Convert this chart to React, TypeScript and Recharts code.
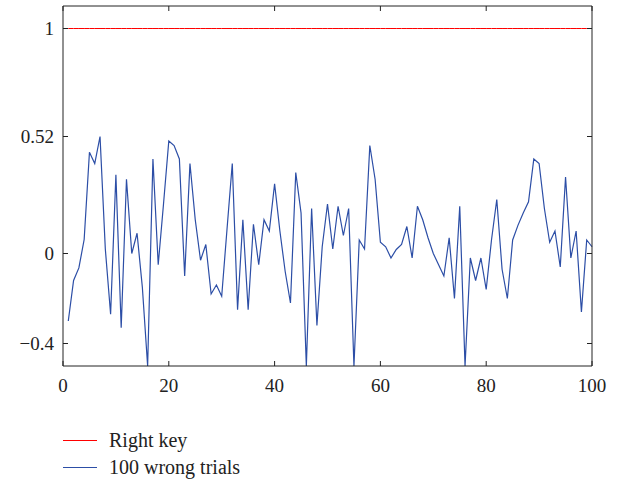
import { LineChart, Line, XAxis, YAxis, Legend } from 'recharts';

const wrongTrials = [
  -0.3, -0.12, -0.064, 0.062, 0.45, 0.4, 0.52, 0.02, -0.27, 0.35,
  -0.33, 0.33, 0.0, 0.09, -0.15, -0.5, 0.42, -0.05, 0.22, 0.5,
  0.48, 0.42, -0.1, 0.4, 0.15, -0.03, 0.04, -0.18, -0.14, -0.19,
  0.107, 0.4, -0.25, 0.15, -0.25, 0.13, -0.05, 0.15, 0.1, 0.31,
  0.1, -0.08, -0.22, 0.36, 0.18, -0.5, 0.2, -0.32, 0.03, 0.22,
  0.02, 0.21, 0.08, 0.2, -0.5, 0.06, 0.02, 0.48, 0.33, 0.05,
  0.03, -0.02, 0.018, 0.04, 0.12, -0.02, 0.21, 0.15, 0.07, 0.0,
  -0.05, -0.1, 0.07, -0.2, 0.21, -0.5, -0.02, -0.12, -0.02, -0.16,
  0.06, 0.24, -0.07, -0.2, 0.06, 0.125, 0.18, 0.23, 0.42, 0.4,
  0.2, 0.05, 0.1, -0.06, 0.34, -0.02, 0.1, -0.26, 0.06, 0.03,
];
const rightKey = 1;
const xTicks = [0, 20, 40, 60, 80, 100];
const yTicks = [-0.4, 0, 0.52, 1];

const data = wrongTrials.map((v, i) => ({ trial: i + 1, wrong: v, right: rightKey }));

const font = '"Liberation Serif", serif';
const axisColor = '#222';
const fmt = (v: number) => (v < 0 ? '\u2212' + Math.abs(v) : String(v));

const legendItems = [
  { name: 'Right key', color: '#ff0000' },
  { name: '100 wrong trials', color: '#2c4ea6' },
];

const renderLegend = () => (
  <div style={{ fontFamily: font, fontSize: 20, color: '#222' }}>
    {legendItems.map((it) => (
      <div key={it.name} style={{ display: 'flex', alignItems: 'center', height: 27 }}>
        <svg width={34} height={3} style={{ marginRight: 12 }}>
          <line x1={0} x2={34} y1={1.5} y2={1.5} stroke={it.color} strokeWidth={1.2} />
        </svg>
        <span>{it.name}</span>
      </div>
    ))}
  </div>
);

export default function App() {
  return (
    <div style={{ position: 'absolute', left: 0, top: 0, background: '#fff' }}>
      <LineChart width={618} height={479} data={data} margin={{ top: 5, right: 25, left: 0, bottom: 83 }}>
        <XAxis
          dataKey="trial"
          type="number"
          domain={[0, 100]}
          ticks={xTicks}
          height={30}
          tickSize={-5}
          tickMargin={18}
          stroke={axisColor}
          tick={{ fill: '#222', fontSize: 19, fontFamily: font }}
        />
        <XAxis
          xAxisId="top"
          dataKey="trial"
          type="number"
          orientation="top"
          domain={[0, 100]}
          ticks={xTicks}
          height={1}
          tickSize={-5}
          stroke={axisColor}
          tick={() => <g />}
        />
        <YAxis
          type="number"
          domain={[-0.5, 1.1]}
          ticks={yTicks}
          width={63}
          tickSize={-5}
          tickMargin={14}
          allowDataOverflow
          stroke={axisColor}
          tickFormatter={fmt}
          tick={{ fill: '#222', fontSize: 19, fontFamily: font }}
        />
        <YAxis
          yAxisId="right"
          orientation="right"
          type="number"
          domain={[-0.5, 1.1]}
          ticks={yTicks}
          width={1}
          tickSize={-5}
          allowDataOverflow
          stroke={axisColor}
          tick={() => <g />}
        />
        <Line dataKey="right" stroke="#ff0000" strokeWidth={1} dot={false} isAnimationActive={false} />
        <Line dataKey="wrong" stroke="#2c4ea6" strokeWidth={1.2} dot={false} isAnimationActive={false} />
        <Legend
          content={renderLegend}
          layout="horizontal"
          verticalAlign="middle"
          align="center"
          wrapperStyle={{ top: 427, left: 63, width: 250 }}
        />
      </LineChart>
    </div>
  );
}
